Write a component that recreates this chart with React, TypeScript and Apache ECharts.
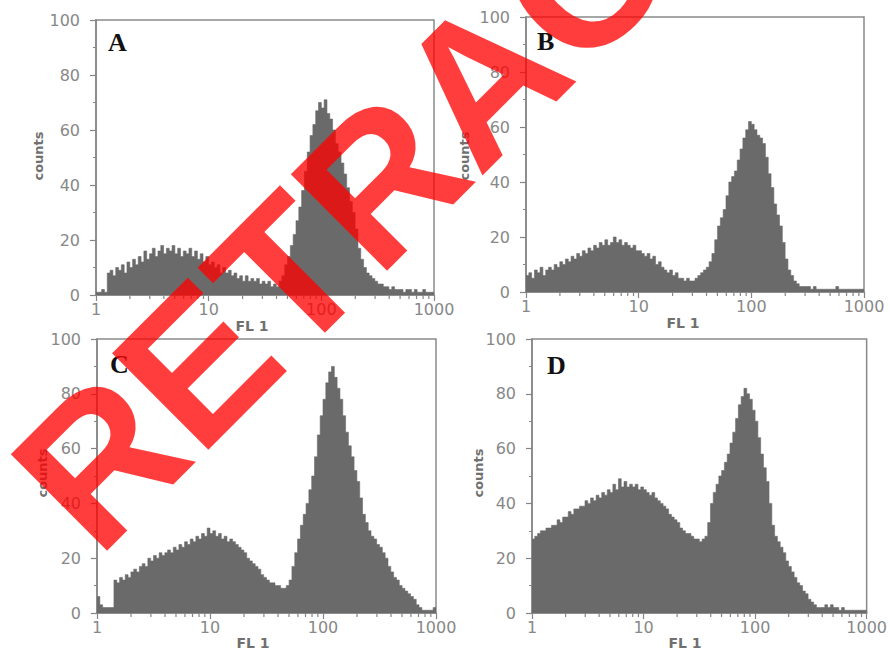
import React, { useEffect, useRef } from "react";
import * as echarts from "echarts";

// ---- data (40 bins per decade on FL1, from 1 to 1000) ----
const binsPerDecade = 40;
const panelLabels = ["A", "B", "C", "D"];
const xTickLabels = ["1", "10", "100", "1000"];
const minorTickValues = [2, 3, 4, 5, 6, 7, 8, 9, 20, 30, 40, 50, 60, 70, 80, 90, 200, 300, 400, 500, 600, 700, 800, 900];

const countsA = [
  1, 1, 2, 1, 8, 9, 7, 10, 9, 11, 8, 12, 10, 13, 11, 14, 12, 16, 13, 15,
  17, 14, 16, 18, 15, 17, 16, 18, 15, 17, 14, 16, 15, 17, 14, 16, 13, 15, 12, 14,
  11, 12, 10, 11, 8, 10, 8, 9, 7, 8, 6, 7, 5, 7, 5, 6, 5, 6, 4, 5,
  4, 5, 3, 4, 3, 5, 7, 11, 14, 18, 22, 27, 32, 38, 45, 52, 58, 62, 67, 70,
  68, 71, 66, 64, 60, 55, 52, 48, 44, 39, 34, 30, 24, 17, 13, 10, 8, 7, 6, 5,
  4, 4, 3, 3, 2, 3, 2, 2, 2, 1, 2, 2, 1, 2, 1, 1, 2, 1, 1, 1,
];
const countsB = [
  6, 7, 5, 8, 7, 9, 6, 8, 9, 8, 10, 9, 11, 10, 12, 11, 13, 12, 14, 13,
  15, 14, 16, 15, 17, 16, 18, 17, 19, 17, 18, 20, 18, 19, 17, 18, 17, 16, 17, 15,
  15, 14, 13, 14, 12, 13, 10, 11, 9, 8, 7, 8, 6, 7, 5, 5, 4, 5, 4, 4,
  5, 6, 7, 8, 9, 11, 14, 19, 24, 27, 30, 35, 40, 42, 44, 48, 52, 56, 59, 62,
  61, 59, 57, 56, 54, 49, 43, 38, 32, 28, 24, 18, 12, 8, 6, 4, 3, 2, 2, 2,
  2, 1, 2, 1, 1, 1, 1, 1, 1, 1, 2, 1, 1, 1, 1, 1, 1, 1, 1, 1,
];
const countsC = [
  6, 3, 2, 2, 2, 2, 12, 11, 13, 12, 14, 13, 15, 16, 15, 17, 18, 17, 20, 19,
  21, 20, 22, 21, 22, 23, 22, 24, 23, 25, 24, 26, 25, 27, 26, 28, 27, 29, 28, 31,
  29, 30, 28, 29, 27, 28, 26, 27, 26, 25, 24, 23, 22, 20, 19, 18, 17, 16, 14, 13,
  12, 11, 11, 10, 10, 9, 9, 10, 12, 17, 22, 27, 32, 36, 40, 45, 50, 57, 65, 72,
  78, 84, 88, 90, 86, 82, 78, 72, 66, 61, 57, 52, 48, 42, 36, 33, 30, 28, 27, 25,
  24, 22, 20, 17, 15, 13, 12, 10, 9, 8, 7, 6, 5, 3, 2, 1, 1, 1, 1, 2,
];
const countsD = [
  27, 28, 29, 30, 30, 31, 31, 32, 32, 34, 33, 35, 35, 37, 36, 38, 38, 39, 39, 41,
  40, 42, 41, 43, 42, 44, 43, 45, 44, 47, 45, 49, 46, 48, 46, 47, 46, 47, 45, 46,
  45, 44, 43, 44, 42, 41, 40, 39, 38, 36, 35, 34, 33, 31, 30, 29, 29, 28, 27, 27,
  26, 27, 28, 33, 40, 44, 47, 50, 52, 55, 58, 62, 66, 71, 76, 79, 82, 80, 78, 74,
  70, 64, 58, 53, 48, 40, 32, 28, 26, 24, 22, 19, 17, 15, 13, 11, 10, 8, 7, 5,
  4, 3, 2, 2, 2, 3, 2, 3, 2, 2, 1, 2, 1, 1, 1, 1, 1, 1, 1, 1,
];
const panelCounts = [countsA, countsB, countsC, countsD];

// ---- layout ----
const grids = [
  { left: 96, top: 20, width: 338, height: 275 },
  { left: 526, top: 17, width: 338, height: 275 },
  { left: 97, top: 339, width: 339, height: 274 },
  { left: 532, top: 339, width: 338, height: 274 },
];
const letterPos = [[108, 29], [537, 28], [110, 351], [547, 352]];
const fl1Pos = [[252, 326], [683, 323], [253, 643], [685, 643]];
const countsPos = [[38, 156], [464, 156], [42, 473], [478, 473]];

const HIST = "#6a6a6a";
const AXIS = "#858585";
const LABEL = "#888888";

function toSteps(counts: number[]) {
  const pts: number[][] = counts.map((v, i) => [Math.pow(10, i / binsPerDecade), v]);
  pts.push([1000, counts[counts.length - 1]]);
  return pts;
}

export default function App() {
  const ref = useRef<HTMLDivElement>(null);
  useEffect(() => {
    if (!ref.current) return;
    const chart = echarts.init(ref.current, null, { renderer: "svg" });
    const xAxis: any[] = [];
    const yAxis: any[] = [];
    const series: any[] = [];
    grids.forEach((g, k) => {
      xAxis.push({
        type: "log",
        logBase: 10,
        min: 1,
        max: 1000,
        gridIndex: k,
        axisLine: { lineStyle: { color: AXIS, width: 1.5 } },
        axisTick: { show: true, length: 6, lineStyle: { color: AXIS, width: 1.2 } },
        axisLabel: {
          color: LABEL,
          fontFamily: "DejaVu Sans",
          fontSize: 16,
          margin: 6,
          formatter: (v: number) => xTickLabels[Math.round(Math.log10(v))] ?? "",
        },
        splitLine: { show: false },
      });
      yAxis.push({
        type: "value",
        min: 0,
        max: 100,
        interval: 20,
        gridIndex: k,
        axisLine: { show: true, lineStyle: { color: AXIS, width: 1.5 } },
        axisTick: { show: true, length: 6, lineStyle: { color: AXIS, width: 1.2 } },
        minorTick: { show: true, splitNumber: 2, length: 3, lineStyle: { color: AXIS, width: 1 } },
        axisLabel: { color: LABEL, fontFamily: "DejaVu Sans", fontSize: 16, margin: 16 },
        splitLine: { show: false },
      });
      series.push({
        type: "line",
        xAxisIndex: k,
        yAxisIndex: k,
        step: "end",
        symbol: "none",
        data: toSteps(panelCounts[k]),
        lineStyle: { color: HIST, width: 0.6 },
        areaStyle: { color: HIST, opacity: 1 },
        z: 3,
      });
      series.push({
        type: "custom",
        xAxisIndex: k,
        yAxisIndex: k,
        data: minorTickValues.map((v) => [v, 0]),
        renderItem: (params: any, api: any) => {
          const p = api.coord([api.value(0), 0]);
          return {
            type: "line",
            shape: { x1: p[0], y1: p[1], x2: p[0], y2: p[1] + 4 },
            style: { stroke: AXIS, lineWidth: 1.2 },
          };
        },
        silent: true,
        z: 4,
      });
    });

    const graphic: any[] = [];
    panelLabels.forEach((l, k) => {
      graphic.push({
        type: "text",
        x: letterPos[k][0],
        y: letterPos[k][1],
        style: {
          text: l,
          fill: "#111",
          fontFamily: "Liberation Serif",
          fontWeight: "bold",
          fontSize: 26,
          textAlign: "left",
          verticalAlign: "top",
          textVerticalAlign: "top",
        },
        z: 5,
      });
      graphic.push({
        type: "text",
        x: fl1Pos[k][0],
        y: fl1Pos[k][1],
        style: {
          text: "FL 1",
          fill: "#707070",
          fontFamily: "DejaVu Sans",
          fontWeight: "bold",
          fontSize: 14,
          textAlign: "center",
          verticalAlign: "middle",
          textVerticalAlign: "middle",
        },
      });
      graphic.push({
        type: "text",
        x: countsPos[k][0],
        y: countsPos[k][1],
        rotation: Math.PI / 2,
        style: {
          text: "counts",
          fill: "#707070",
          fontFamily: "DejaVu Sans",
          fontWeight: "bold",
          fontSize: 13,
          textAlign: "center",
          verticalAlign: "middle",
          textVerticalAlign: "middle",
        },
      });
    });
    graphic.push({
      type: "text",
      x: 481,
      y: 80,
      rotation: (45 * Math.PI) / 180,
      z: 100,
      style: {
        text: "RETRACTED",
        fill: "rgba(255,0,0,0.76)",
        fontFamily: "Liberation Sans",
        fontWeight: "bold",
        fontSize: 198,
        textAlign: "center",
        verticalAlign: "middle",
        textVerticalAlign: "middle",
      },
    });

    chart.setOption({
      animation: false,
      backgroundColor: "#ffffff",
      grid: grids.map((g) => ({ ...g, show: true, borderColor: "#8a8a8a", borderWidth: 1.5, backgroundColor: "transparent" })),
      xAxis,
      yAxis,
      series,
      graphic,
    });
    return () => chart.dispose();
  }, []);
  return <div ref={ref} style={{ position: "absolute", left: 0, top: 0, width: 890, height: 651 }} />;
}
